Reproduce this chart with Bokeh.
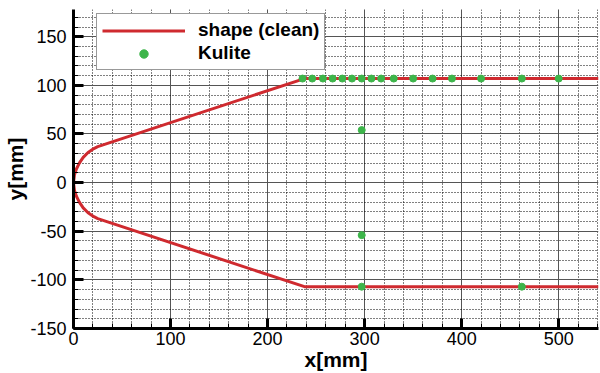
from bokeh.plotting import figure
from bokeh.models import SingleIntervalTicker, Range1d, Legend, LegendItem, PrintfTickFormatter
from bokeh.embed import file_html
from bokeh.resources import INLINE

# contour of the model, from lower right, around the nose, to upper right
shape_x = [541, 238, 25, 21, 15, 10, 6, 3, 1, 0, 1, 3, 6, 10, 15, 21, 25, 238, 541]
shape_y = [-107, -107, -37, -35, -31, -26, -20, -14, -8, 0, 8, 14, 20, 26, 31, 35, 37, 107, 107]

# Kulite sensor positions
kulite_x = [236, 246, 257, 267, 277, 287, 297, 307, 317, 330, 350, 370, 390, 420, 462, 500,
            297, 297, 297, 462]
kulite_y = [107, 107, 107, 107, 107, 107, 107, 107, 107, 107, 107, 107, 107, 107, 107, 107,
            54, -54, -107, -107]

x_label = "x[mm]"
y_label = "y[mm]"
series_names = ["shape (clean)", "Kulite"]

FONT = "Liberation Sans"

p = figure(width=600, height=373, output_backend="svg", toolbar_location=None,
           x_range=Range1d(0, 541), y_range=Range1d(-150, 178),
           min_border_left=73, min_border_right=2, min_border_top=9, min_border_bottom=45)
p.outline_line_color = None
p.background_fill_color = "white"
p.border_fill_color = "white"

p.xaxis.ticker = SingleIntervalTicker(interval=100, num_minor_ticks=5)
p.yaxis.ticker = SingleIntervalTicker(interval=50, num_minor_ticks=5)
p.xaxis.formatter = PrintfTickFormatter(format="%d")
p.yaxis.formatter = PrintfTickFormatter(format="%d")

for ax in (p.xaxis[0], p.yaxis[0]):
    ax.axis_line_width = 3
    ax.axis_line_color = "black"
    ax.major_tick_in = 10
    ax.major_tick_out = 0
    ax.major_tick_line_width = 3
    ax.minor_tick_in = 5
    ax.minor_tick_out = 0
    ax.minor_tick_line_width = 1
    ax.major_label_text_font = FONT
    ax.major_label_text_font_size = "18px"
    ax.major_label_text_color = "black"
    ax.axis_label_text_font = FONT
    ax.axis_label_text_font_style = "bold"
    ax.axis_label_text_font_size = "21px"
    ax.axis_label_text_color = "black"

p.xaxis.axis_label = x_label
p.yaxis.axis_label = y_label
p.xaxis.major_label_standoff = 3
p.xaxis.axis_label_standoff = 0
p.yaxis.major_label_standoff = 7
p.yaxis.axis_label_standoff = 0

for g in (p.xgrid[0], p.ygrid[0]):
    g.grid_line_color = "#555555"
    g.grid_line_width = 1
    g.minor_grid_line_color = "black"
    g.minor_grid_line_dash = "1 2"
    g.minor_grid_line_width = 1

r_shape = p.line(shape_x, shape_y, line_color="#cf2a2f", line_width=3)
r_kul = p.scatter(kulite_x, kulite_y, size=7, fill_color="#3db54a", line_color="#3db54a")

legend = Legend(items=[LegendItem(label=series_names[0], renderers=[r_shape]),
                       LegendItem(label=series_names[1], renderers=[r_kul])],
                location=(23, 258))
legend.label_text_font = FONT
legend.label_text_font_style = "bold"
legend.label_text_font_size = "19px"
legend.label_text_color = "black"
legend.glyph_width = 83
legend.glyph_height = 21
legend.label_standoff = 13
legend.padding = 5
legend.spacing = 1
legend.margin = 0
legend.border_line_color = "#333333"
legend.border_line_width = 1
legend.background_fill_alpha = 1
p.add_layout(legend, "center")

open("out.html", "w").write(file_html(p, INLINE))
